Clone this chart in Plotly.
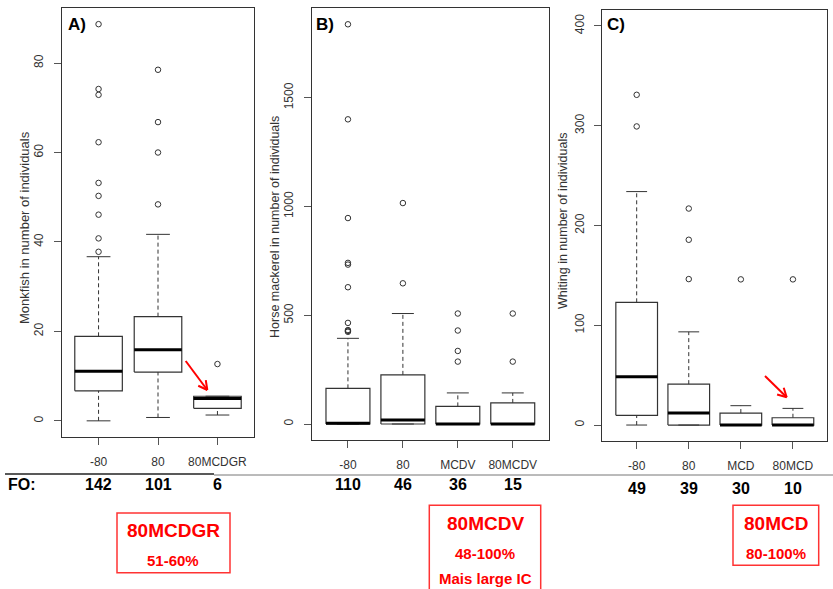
import math
import plotly.graph_objects as go

W, H = 833, 589

# ---- data: per-group box statistics (lower whisker, Q1, median, Q3, upper whisker) and outliers ----
a_cats = ["-80", "80", "80MCDGR"]
a_lo = [0.0, 0.75, 1.3]
a_q1 = [6.7, 10.9, 2.8]
a_med = [11.1, 15.9, 5.0]
a_q3 = [18.9, 23.3, 5.5]
a_hi = [36.7, 41.7, 5.5]
a_out = [[88.7, 74.2, 72.9, 62.3, 53.2, 50.3, 46.1, 40.8, 37.8],
         [78.5, 66.8, 60.0, 48.4],
         [12.7]]
a_fo = [142, 101, 6]

b_cats = ["-80", "80", "MCDV", "80MCDV"]
b_lo = [0, 0, 0, 0]
b_q1 = [0, 0, 0, 0]
b_med = [4, 18, 0, 0]
b_q3 = [164, 226, 81, 97]
b_hi = [394, 508, 143, 143]
b_out = [[1838, 1401, 947, 741, 733, 629, 465, 432, 428, 424],
         [1016, 647],
         [508, 430, 336, 287],
         [508, 287]]
b_fo = [110, 46, 36, 15]

c_cats = ["-80", "80", "MCD", "80MCD"]
c_lo = [0, 0, 0, 0]
c_q1 = [9.7, 0, 0, 0]
c_med = [48.3, 12, 0, 0]
c_q3 = [123, 41, 12, 7.3]
c_hi = [234, 93.4, 19.4, 16.7]
c_out = [[331, 299.3],
         [217, 185.7, 146.3],
         [146],
         [146]]
c_fo = [49, 39, 30, 10]

FONT = "Liberation Sans, Arial, sans-serif"
LINE = "#333333"


def px(x):
    return x / W


def py(y):
    return 1 - y / H


fig = go.Figure()


def add_panel(k, cats, lo, q1, med, q3, hi, outs):
    xa, ya = ("x", "y") if k == 1 else (f"x{k}", f"y{k}")
    bx, by, mx, my, wx, wy, sx, sy, ox, oy = [], [], [], [], [], [], [], [], [], []
    hw, sw = 0.4, 0.2
    for i in range(len(cats)):
        c = i + 1
        bx += [c - hw, c + hw, c + hw, c - hw, c - hw, None]
        by += [q1[i], q1[i], q3[i], q3[i], q1[i], None]
        mx += [c - hw, c + hw, None]
        my += [med[i], med[i], None]
        wx += [c, c, None, c, c, None]
        wy += [q3[i], hi[i], None, lo[i], q1[i], None]
        sx += [c - sw, c + sw, None, c - sw, c + sw, None]
        sy += [hi[i], hi[i], None, lo[i], lo[i], None]
        ox += [c] * len(outs[i])
        oy += outs[i]
    common = dict(xaxis=xa, yaxis=ya, showlegend=False, hoverinfo="skip")
    fig.add_trace(go.Scatter(x=wx, y=wy, mode="lines",
                             line=dict(color=LINE, width=1, dash="4px,3px"), **common))
    fig.add_trace(go.Scatter(x=sx, y=sy, mode="lines",
                             line=dict(color=LINE, width=1), **common))
    fig.add_trace(go.Scatter(x=bx, y=by, mode="lines",
                             line=dict(color=LINE, width=1.2), **common))
    fig.add_trace(go.Scatter(x=mx, y=my, mode="lines",
                             line=dict(color="black", width=3), **common))
    fig.add_trace(go.Scatter(x=ox, y=oy, mode="markers",
                             marker=dict(symbol="circle-open", size=5.5,
                                         color=LINE, line=dict(width=1)), **common))


add_panel(1, a_cats, a_lo, a_q1, a_med, a_q3, a_hi, a_out)
add_panel(2, b_cats, b_lo, b_q1, b_med, b_q3, b_hi, b_out)
add_panel(3, c_cats, c_lo, c_q1, c_med, c_q3, c_hi, c_out)


def xaxis(dom, cats, anchor):
    n = len(cats)
    pad = 0.04 * n
    return dict(domain=dom, range=[0.5 - pad, n + 0.5 + pad], anchor=anchor,
                tickvals=list(range(1, n + 1)), ticktext=cats,
                ticks="outside", ticklen=7, tickcolor="#555",
                tickfont=dict(family=FONT, size=12, color="#333"),
                ticklabelstandoff=7,
                showline=True, mirror=True, linecolor=LINE, linewidth=1,
                showgrid=False, zeroline=False, fixedrange=True)


def yaxis(dom, rng, vals, anchor):
    return dict(domain=dom, range=rng, tickvals=vals, tickangle=-90,
                ticks="outside", ticklen=7, tickcolor="#555",
                tickfont=dict(family=FONT, size=12, color="#333"),
                ticklabelstandoff=6,
                showline=True, mirror=True, linecolor=LINE, linewidth=1,
                showgrid=False, zeroline=False, anchor=anchor, fixedrange=True)


a_top = max(max(o) for o in a_out)
b_top = max(max(o) for o in b_out)

fig.update_layout(
    width=W, height=H,
    margin=dict(l=0, r=0, t=0, b=0),
    paper_bgcolor="white", plot_bgcolor="white",
    xaxis=xaxis([px(61.7), px(254.3)], a_cats, "y"),
    yaxis=yaxis([py(436.7), py(8.3)], [-0.04 * a_top, 1.04 * a_top], [0, 20, 40, 60, 80], "x"),
    xaxis2=xaxis([px(311.7), px(549)], b_cats, "y2"),
    yaxis2=yaxis([py(440), py(8.3)], [-0.04 * b_top, 1.04 * b_top], [0, 500, 1000, 1500], "x2"),
    xaxis3=xaxis([px(602.3), px(827.3)], c_cats, "y3"),
    yaxis3=yaxis([py(441), py(10)], [-16, 416], [0, 100, 200, 300, 400], "x3"),
)


def note(x, y, text, size, color="black", xanchor="center", xref="paper", angle=0):
    return dict(x=x, y=py(y), xref=xref, yref="paper", text=text, textangle=angle,
                xanchor=xanchor, yanchor="middle", showarrow=False,
                font=dict(family=FONT, size=size, color=color))


ann = []
# axis titles
for x, y, t, s in [(24, 228, "Monkfish in number of individuals", 13),
                   (275, 227, "Horse mackerel in number of individuals", 12.5),
                   (563, 221, "Whiting in number of individuals", 12.5)]:
    ann.append(note(px(x), y, t, s, color="#333", angle=-90))
# panel letters
for x, y, t in [(66, 24, "A)"), (314, 24, "B)"), (605, 25, "C)")]:
    ann.append(note(px(x), y, "<b>%s</b>" % t, 17, xanchor="left"))

# frequency of occurrence row
ann.append(note(px(6), 484.5, "<b>FO:</b>", 16, xanchor="left"))
for xr, fo, yy in [("x", a_fo, 484.5), ("x2", b_fo, 484.5), ("x3", c_fo, 488.5)]:
    for i, v in enumerate(fo):
        ann.append(note(i + 1, yy, "<b>%d</b>" % v, 16, xref=xr))

RED = "#ff0000"
# highlighted configurations
for cx, lines in [(173, [(530, "80MCDGR", 19), (560, "51-60%", 15)]),
                  (485, [(523, "80MCDV", 19), (553.5, "48-100%", 15), (578.5, "Mais large IC", 15)]),
                  (776, [(523, "80MCD", 19), (553, "80-100%", 15)])]:
    for yy, t, s in lines:
        ann.append(note(px(cx), yy, "<b>%s</b>" % t, s, color=RED))
fig.update_layout(annotations=ann)

shapes = []
for x0, y0, x1, y1 in [(117, 513, 230, 572.7), (429.3, 505.3, 540.7, 600), (733, 505.3, 818.7, 565.3)]:
    shapes.append(dict(type="rect", xref="paper", yref="paper", x0=px(x0), x1=px(x1),
                       y0=py(y0), y1=py(y1), line=dict(color="#ff3333", width=1.5)))
# separator under the category labels
shapes.append(dict(type="line", xref="paper", yref="paper", x0=px(5), x1=px(214),
                   y0=py(474), y1=py(474), line=dict(color="#222", width=1.5)))
shapes.append(dict(type="line", xref="paper", yref="paper", x0=px(214), x1=px(833),
                   y0=py(475), y1=py(475), line=dict(color="#777", width=1)))

# red arrows pointing at the selected gear
for (x0, y0), (x1, y1) in [((185.7, 361), (207.3, 390)), ((765, 376), (786.7, 397.3))]:
    shapes.append(dict(type="line", xref="paper", yref="paper", x0=px(x0), y0=py(y0),
                       x1=px(x1), y1=py(y1), line=dict(color=RED, width=2)))
    ang = math.atan2(y1 - y0, x1 - x0)
    for d in (math.radians(28), -math.radians(28)):
        hx = x1 - 10 * math.cos(ang + d)
        hy = y1 - 10 * math.sin(ang + d)
        shapes.append(dict(type="line", xref="paper", yref="paper", x0=px(x1), y0=py(y1),
                           x1=px(hx), y1=py(hy), line=dict(color=RED, width=2)))
fig.update_layout(shapes=shapes)

fig.write_html("out.html")
